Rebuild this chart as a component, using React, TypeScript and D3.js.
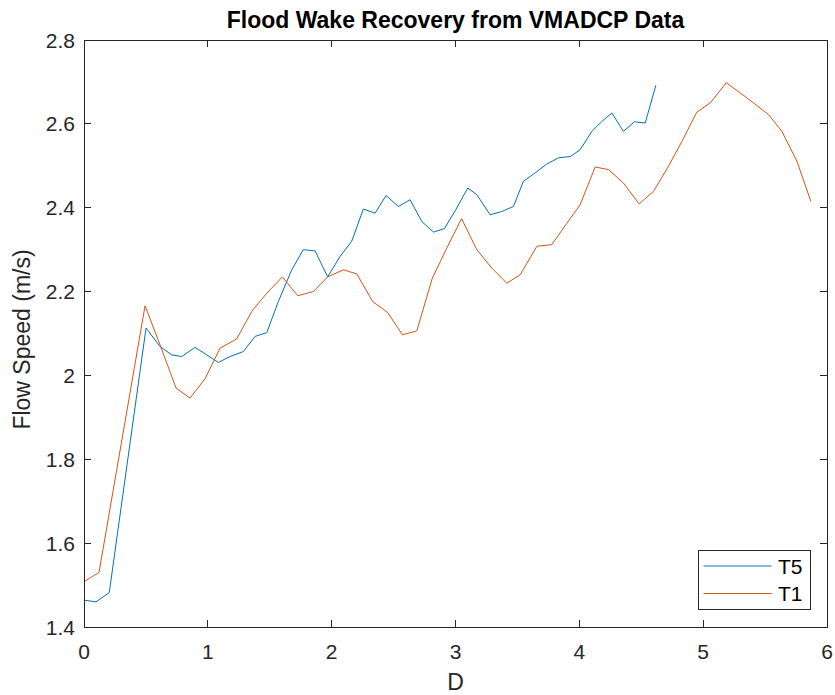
import React from "react";
import * as d3 from "d3";

// Distance downstream (in rotor diameters) and depth-averaged flow speed (m/s)
const t5D = [0, 0.097, 0.204, 0.501, 0.614, 0.708, 0.789, 0.897, 0.991, 1.085, 1.179, 1.287, 1.381, 1.476, 1.569, 1.678, 1.771, 1.866, 1.968, 2.068, 2.162, 2.256, 2.351, 2.439, 2.539, 2.633, 2.728, 2.822, 2.91, 3.002, 3.099, 3.172, 3.28, 3.374, 3.468, 3.548, 3.643, 3.737, 3.831, 3.926, 4.006, 4.101, 4.182, 4.263, 4.356, 4.445, 4.532, 4.618];
const t5Speed = [1.464, 1.46, 1.482, 2.113, 2.069, 2.049, 2.045, 2.067, 2.049, 2.031, 2.045, 2.057, 2.093, 2.102, 2.176, 2.252, 2.3, 2.297, 2.235, 2.284, 2.32, 2.397, 2.387, 2.429, 2.403, 2.419, 2.367, 2.342, 2.35, 2.395, 2.447, 2.431, 2.383, 2.391, 2.403, 2.463, 2.483, 2.504, 2.519, 2.522, 2.538, 2.582, 2.606, 2.626, 2.582, 2.605, 2.602, 2.692];

const t1D = [0, 0.121, 0.493, 0.614, 0.743, 0.856, 0.977, 1.099, 1.233, 1.355, 1.476, 1.602, 1.726, 1.852, 1.968, 2.095, 2.203, 2.332, 2.453, 2.571, 2.687, 2.813, 2.93, 3.049, 3.172, 3.293, 3.414, 3.522, 3.657, 3.778, 3.899, 4.006, 4.128, 4.235, 4.356, 4.483, 4.599, 4.72, 4.828, 4.949, 5.061, 5.186, 5.299, 5.406, 5.528, 5.636, 5.757, 5.87];
const t1Speed = [1.508, 1.53, 2.166, 2.073, 1.97, 1.946, 1.992, 2.065, 2.087, 2.153, 2.196, 2.235, 2.19, 2.2, 2.235, 2.252, 2.242, 2.176, 2.15, 2.097, 2.106, 2.232, 2.304, 2.374, 2.3, 2.256, 2.22, 2.24, 2.308, 2.312, 2.363, 2.407, 2.497, 2.491, 2.459, 2.409, 2.439, 2.499, 2.558, 2.628, 2.651, 2.698, 2.674, 2.65, 2.622, 2.582, 2.511, 2.415];

const xTicks = [0, 1, 2, 3, 4, 5, 6];
const yTicks = [1.4, 1.6, 1.8, 2, 2.2, 2.4, 2.6, 2.8];

const seriesNames = ["T5", "T1"];
const seriesColors = ["#0072BD", "#D95319"];

const W = 835;
const H = 695;
const plot = { left: 84, right: 827, top: 40, bottom: 627 };
const FONT = "'Liberation Sans', Arial, Helvetica, sans-serif";
const AXIS = "#262626";
const TICK_FONT = 21;
const LABEL_FONT = 23;

export default function App() {
  const x = d3.scaleLinear().domain([0, 6]).range([plot.left, plot.right]);
  const y = d3.scaleLinear().domain([1.4, 2.8]).range([plot.bottom, plot.top]);

  const line = d3
    .line<[number, number]>()
    .x((d) => x(d[0]))
    .y((d) => y(d[1]));

  const series = [
    t5D.map((d, i) => [d, t5Speed[i]] as [number, number]),
    t1D.map((d, i) => [d, t1Speed[i]] as [number, number]),
  ];

  const tickLen = 7;
  const fmt = (v: number) => (Number.isInteger(v) ? String(v) : String(+v.toFixed(1)));

  const legend = { x0: 698.5, y0: 550, x1: 810.5, y1: 609 };

  return (
    <svg
      width={W}
      height={H}
      style={{ position: "absolute", left: 0, top: 0, background: "#fff" }}
      fontFamily={FONT}
    >
      <rect x={0} y={0} width={W} height={H} fill="#fff" />

      {/* data lines */}
      <g fill="none" strokeWidth={1} strokeLinejoin="round">
        {series.map((s, i) => (
          <path key={seriesNames[i]} d={line(s) || ""} stroke={seriesColors[i]} />
        ))}
      </g>

      {/* axes box and ticks */}
      <g stroke={AXIS} strokeWidth={1} fill="none" shapeRendering="crispEdges">
        <rect
          x={plot.left}
          y={plot.top}
          width={plot.right - plot.left}
          height={plot.bottom - plot.top}
        />
        {xTicks.map((t) => (
          <g key={"xt" + t}>
            <line x1={x(t)} x2={x(t)} y1={plot.bottom} y2={plot.bottom - tickLen} />
            <line x1={x(t)} x2={x(t)} y1={plot.top} y2={plot.top + tickLen} />
          </g>
        ))}
        {yTicks.map((t) => (
          <g key={"yt" + t}>
            <line x1={plot.left} x2={plot.left + tickLen} y1={y(t)} y2={y(t)} />
            <line x1={plot.right} x2={plot.right - tickLen} y1={y(t)} y2={y(t)} />
          </g>
        ))}
      </g>

      {/* tick labels */}
      <g fill={AXIS} fontSize={TICK_FONT}>
        {xTicks.map((t) => (
          <text key={"xl" + t} x={x(t)} y={plot.bottom + 32} textAnchor="middle">
            {fmt(t)}
          </text>
        ))}
        {yTicks.map((t) => (
          <text
            key={"yl" + t}
            x={plot.left - 9}
            y={y(t)}
            textAnchor="end"
            dominantBaseline="central"
          >
            {fmt(t)}
          </text>
        ))}
      </g>

      {/* axis labels */}
      <text x={(plot.left + plot.right) / 2} y={H - 5} textAnchor="middle" fontSize={LABEL_FONT} fill={AXIS}>
        D
      </text>
      <text
        transform={`translate(30, ${(plot.top + plot.bottom) / 2 + 6}) rotate(-90)`}
        textAnchor="middle"
        fontSize={LABEL_FONT}
        fill={AXIS}
      >
        Flow Speed (m/s)
      </text>

      {/* title */}
      <text
        x={(plot.left + plot.right) / 2}
        y={plot.top - 12}
        textAnchor="middle"
        fontSize={LABEL_FONT}
        fontWeight="bold"
        fill="#000"
      >
        Flood Wake Recovery from VMADCP Data
      </text>

      {/* legend */}
      <g>
        <rect
          x={legend.x0}
          y={legend.y0}
          width={legend.x1 - legend.x0}
          height={legend.y1 - legend.y0}
          fill="#fff"
          stroke={AXIS}
          strokeWidth={1}
          shapeRendering="crispEdges"
        />
        {seriesNames.map((name, i) => {
          const cy = legend.y0 + 16 + i * 27.5;
          return (
            <g key={"lg" + name}>
              <line x1={703.5} x2={771.5} y1={cy} y2={cy} stroke={seriesColors[i]} strokeWidth={1} />
              <text x={778} y={cy} dominantBaseline="central" fontSize={TICK_FONT} fill="#000">
                {name}
              </text>
            </g>
          );
        })}
      </g>
    </svg>
  );
}
